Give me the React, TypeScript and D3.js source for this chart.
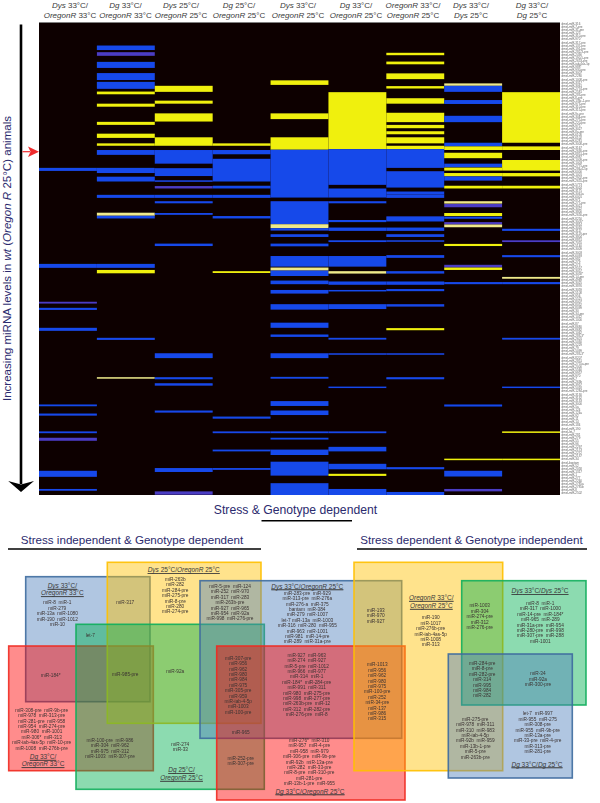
import React from "react";
import * as d3 from "d3";

// ---------- heat map data: [first rank, last rank, kind]; rank = position in the miRNA list
type Band = [number, number, string];
const columnsTop = ["Dys 33°C/", "Dg 33°C/", "Dys 25°C/", "Dg 25°C/", "Dys 33°C/", "Dg 33°C/", "OregonR 33°C/", "Dys 33°C/", "Dg 33°C/"];
const columnsBottom = ["OregonR 33°C", "OregonR 33°C", "OregonR 25°C", "OregonR 25°C", "OregonR 25°C", "OregonR 25°C", "OregonR 25°C", "Dys 25°C", "Dg 25°C"];

const dys33Or33: Band[] = [[48,49,"B"],[79.7,81,"B"],[92.2,92.8,"P"],[94.2,94.9,"B"],[100.8,101.8,"B"],[126.1,126.7,"B"],[129.1,129.8,"B"],[135,135.6,"B"],[137.1,138.1,"P"],[148,150,"B"],[154,154.6,"B"]];
const dg33Or33: Band[] = [[7.6,9.1,"B"],[9.8,11,"P"],[13,15,"B"],[16.7,19,"B"],[19.6,21.9,"B"],[22.8,23.7,"Y"],[26.8,27.8,"Y"],[32.8,33.8,"Y"],[36.7,38.1,"Y"],[39.9,40.7,"Y"],[42.1,43.7,"B"],[48,49.7,"B"],[50.9,52.5,"B"],[56.9,57.9,"B"],[62.8,63.8,"L"],[63.8,64.7,"B"],[79.7,81,"B"],[81.7,82.8,"Y"],[104.1,104.8,"B"],[117.1,117.6,"L"]];
const dys25Or25: Band[] = [[20.9,22.9,"Y"],[25.8,26.8,"Y"],[30,32.7,"Y"],[37.9,40.7,"Y"],[42.1,46.6,"B"],[48.1,50.7,"B"],[52.1,52.6,"B"],[54,54.8,"P"],[56.9,57.9,"B"],[59,59.7,"B"],[62.9,63.5,"B"],[73,73.8,"B"],[109.2,110.8,"B"],[117.1,117.8,"B"],[119.1,119.9,"B"],[128.1,128.8,"B"],[147.1,148.4,"B"],[154.8,155.9,"P"]];
const dg25Or25: Band[] = [[39.9,40.7,"Y"],[42.1,43.5,"B"],[45,52.5,"B"],[53.9,54.8,"B"],[56.9,57.9,"B"],[63.9,64.7,"B"],[82.1,82.7,"Y"],[130.1,130.8,"B"],[135,135.6,"B"],[141,141.6,"B"],[147.1,147.7,"B"]];
const dys33Or25: Band[] = [[19.1,20.6,"Y"],[30,31.9,"Y"],[37.9,42,"Y"],[42,57.8,"B"],[59,66.6,"B"],[66.6,67.9,"L"],[67.9,68.7,"B"],[69.9,70.8,"B"],[73,73.9,"B"],[77.1,80.6,"B"],[80.9,81.9,"L"],[81.9,83.7,"B"],[85.2,86.4,"B"],[88.3,89.5,"B"],[93,94.8,"B"],[99.1,100.8,"B"],[103,103.8,"B"],[109.2,110.8,"B"],[117,117.6,"B"],[125,126.6,"B"],[128.1,129.6,"B"],[135,135.6,"B"],[137.1,137.7,"B"],[141,142.8,"B"],[145,149.6,"B"],[152.1,156,"B"]];
const dg33Or25: Band[] = [[23,41.8,"Y"],[41.8,53.6,"B"],[54.8,57.8,"B"],[59,59.7,"B"],[65.2,65.9,"B"],[67.7,68.8,"B"],[71.9,72.5,"B"],[77.1,80.6,"B"],[82.1,82.9,"L"],[85.5,86.6,"B"],[88.3,88.8,"B"],[93,94.6,"B"],[104.1,104.7,"B"],[109.2,109.7,"B"],[120.2,120.7,"B"],[135,135.6,"B"],[140.1,141.6,"B"],[145.7,147.5,"B"],[149,149.7,"Y"],[154,156,"B"]];
const or33Or25: Band[] = [[10,10.8,"Y"],[12.9,13.8,"Y"],[16.8,18.7,"Y"],[21,21.8,"Y"],[25,26.8,"Y"],[29.8,32.9,"Y"],[33.8,34.9,"Y"],[35.9,36.9,"Y"],[37.9,39.9,"Y"],[40.7,41.8,"Y"],[41.8,48,"B"],[49.1,54.5,"B"],[55.8,56.8,"B"],[56.8,57.9,"B"],[64,65.7,"B"],[67.7,68.8,"B"],[69.9,70.8,"B"],[71.9,72.4,"B"],[76.8,77.7,"B"],[82.1,82.9,"B"],[85.5,86.6,"B"],[88,88.7,"B"],[93,93.8,"B"],[100.9,101.6,"Y"],[109.2,109.7,"B"],[117.1,117.8,"B"],[146.8,147.5,"B"],[155,156,"B"]];
const dys33Dys25: Band[] = [[20.1,20.9,"L"],[20.9,22.9,"B"],[25.6,26.9,"B"],[30.8,32.9,"B"],[39.7,40.9,"B"],[40.9,42.1,"Y"],[43,44.8,"Y"],[46.6,47.8,"B"],[47.9,48.9,"Y"],[49.7,50.8,"Y"],[50.8,52.2,"B"],[53.9,54.8,"Y"],[59,59.8,"L"],[59.9,61,"P"],[62.9,63.9,"Y"],[64.1,64.8,"B"],[65.9,66.7,"P"],[66.7,67.6,"L"],[73.1,73.8,"Y"],[80,80.9,"P"],[80.9,81.7,"Y"],[85.7,86.4,"B"],[126.1,126.8,"B"],[144,144.5,"Y"],[148,149.9,"B"],[154,154.8,"P"]];
const dg33Dg25: Band[] = [[23,39.7,"Y"],[40.9,42.1,"Y"],[45.4,48.9,"Y"],[49.7,50.8,"Y"],[53.9,54.8,"Y"],[68.1,68.8,"B"],[71.9,72.5,"P"],[76.8,77.5,"B"],[84,84.6,"L"],[85.7,86.4,"B"],[104.1,104.7,"B"],[120.2,120.7,"B"],[135,135.5,"Y"],[144,144.5,"Y"]];
const heatColumns = [dys33Or33, dg33Or33, dys25Or25, dg25Or25, dys33Or25, dg33Or25, or33Or25, dys33Dys25, dg33Dg25];

const rowLabels = ["miR-316","miR-7-pre","miR-31-pre","miR-125","miR-310-pre","miR-970","miR-317-pre","miR-137-pre","miR-191-pre","miR-282-3-pre","miR-2490","miR-190-5-pre","miR-2653-pre","miR-iab-4as-5p","miR-988*","miR-930-pre","miR-3007","miR-2280","miR-1008-pre","miR-3317","miR-3061","miR-2774-pre","miR-2581","miR-283-pre","miR-8-pre","miR-136c-1-pre","miR-973-pre","miR-310-pre","miR-315-pre","miR-9c-pre","miR-304-pre","miR-275-pre","miR-220-pre","miR-975","miR-3027","miR-8a-pre","miR-6100","miR-6102","miR-6281","miR-3008-pre","miR-3167","miR-2636-pre","miR-8851-pre","miR-4987","miR-1009-pre","miR-1003","miR-2775-pre","miR-286-4-5p","miR-6000","miR-1001","miR-2902-pre","miR-2655-pre","miR-5773","miR-3024","miR-3175","miR-3061a","miR-6001","miR-971","miR-277-pre","miR-3021","miR-3022","miR-3800","miR-2656-pre","miR-8250","miR-3005*","miR-3814","miR-3016","miR-3117","miR-3119-pre","miR-3804","miR-8851","miR-7055","miR-5140","miR-3009","miR-3003","miR-6093","miR-982","miR-279","miR-273","miR-9557","miR-3057","miR-3058*","miR-14-pre","miR-4969","miR-3025","miR-3876","miR-3059","miR-5108","miR-956","miR-5525","miR-8007","miR-8052","miR-8099","miR-30","miR-34-pre","miR-1012","miR-1000","miR-87","miR-8680","miR-8682","miR-1062","miR-283-3*","miR-2601","miR-5030","miR-5229","miR-79","miR-5099","miR-283-3*","miR-8207","miR-2851","miR-2755a-pre","miR-2000","miR-5560","miR-9957","miR-970","miR-7","miR-263b","miR-3957","miR-5018","miR-1284-pre","miR-3130","miR-3132","miR-3133","miR-3000","miR-5a","miR-124","miR-124a","miR-92","miR-11","miR-14","miR-184","miR-190","let-7","miR-281","miR-279","miR-55","miR-96","miR-2297","miR-2173","miR-2272","miR-2137","miR-34","bantam","miR-52","miR-2058","miR-1317","miR-1","miR-277","miR-2260","miR-2785a","miR-2785b","miR-8","miR-2502"];

// ---------- miRNAs of each Venn region
const dys33Or33Only = ["miR-8  miR-1","miR-279","miR-13a  miR-1080","miR-190  miR-1012","miR-10"];
const dys33Dys25Shared1 = ["miR-317"];
const dys25Or25Only = ["miR-263b","miR-282","miR-284-pre","miR-275-pre","miR-8-pre","miR-280","miR-274-pre"];
const letSeven = ["let-7"];
const mir184Star = ["miR-184*"];
const mir985 = ["miR-985-pre"];
const mir92a = ["miR-92a"];
const dg33Or33Only = ["miR-308-pre  miR-9b-pre","miR-978  miR-313-pre","miR-281-pre  miR-958","miR-954  miR-274-pre","miR-980  miR-1001","miR-306*  miR-313","miR-iab-4as-5p  miR-10-pre","miR-1008  miR-276b-pre"];
const dg33Dg25Or = ["miR-100-pre  miR-986","miR-304  miR-962","miR-975  miR-312","miR-1003  miR-307-pre"];
const dg25Only = ["miR-274","miR-33"];
const dysTripleTop = ["miR-5-pre  miR-124","miR-252  miR-970","miR-317  miR-283","miR-263b-pre","miR-927  miR-965","miR-954  miR-92a","miR-998  miR-276-pre"];
const dys33Or25Only = ["miR-283-pre  miR-929","miR-313-pre  miR-276a","miR-276-a  miR-375","bantam  miR-384","miR-279  miR-1007","let-7 miR-13a  miR-1003","miR-316  miR-280  miR-955","miR-963  miR-1001","miR-981  miR-14-pre","miR-289  miR-31a-pre"];
const quadShared = ["miR-307-pre","miR-956","miR-962","miR-980","miR-984","miR-975","miR-305-pre","miR-959","miR-iab-4-5p","miR-1003","miR-100-pre"];
const dysDgOr25 = ["miR-927  miR-963","miR-274  miR-927","miR-5-pre  miR-1012","miR-966  miR-977","miR-314  miR-1","miR-184*  miR-284-pre","miR-991  miR-311","miR-980  miR-275-pre","miR-998  miR-277-pre","miR-263b-pre  miR-12","miR-312  miR-282-pre","miR-276-pre  miR-8"];
const mir965 = ["miR-965"];
const dg25Dg33Or25 = ["miR-252-pre","miR-307-pre"];
const dg33Or25Only = ["miR-276*  miR-310","miR-957  miR-4-pre","miR-958  miR-979","miR-306-pre  miR-9b-pre","miR-92b  miR-13a-pre","miR-282  miR-33-pre","miR-8-pre  miR-310-pre","miR-281-pre","miR-13b-1-pre  miR-955"];
const orDysShared = ["miR-193","miR-970","miR-927"];
const orDysDgShared = ["miR-1013","miR-956","miR-962","miR-980","miR-975","miR-100-pre","miR-252","miR-34-pre","miR-137","miR-986","miR-315"];
const or33Or25Only = ["miR-190","miR-1017","miR-276b-pre","miR-iab-4as-5p","miR-1008","miR-313"];
const orDys25Shared = ["miR-1003","miR-304","miR-274-pre","miR-312","miR-276-pre"];
const dys33Dys25Only = ["miR-8  miR-1","miR-317  miR-1000","miR-14-pre  miR-184*","miR-965  miR-289","miR-31a-pre  miR-954","miR-280-pre  miR-998","miR-307-pre  miR-288","miR-1001"];
const tripleRight = ["miR-284-pre","miR-8-pre","miR-282-pre","miR-314","miR-995","miR-984","miR-282"];
const dysDgShared = ["miR-34","miR-92a","miR-300-pre"];
const orDgShared = ["miR-275-pre","miR-978  miR-311","miR-310  miR-983","miR-iab-4-5p","miR-92b  miR-959","miR-13b-1-pre","miR-5-pre","miR-263b-pre"];
const dg33Dg25Only = ["let-7  miR-997","miR-955  miR-275","miR-308-pre","miR-955  miR-9b-pre","miR-13a-pre","miR-33-pre  miR-4-pre","miR-313-pre","miR-281-pre"];

// ---------- layout and style (not data)
const W = 600, H = 803;
const KIND: Record<string, string> = { B: "#1848ea", Y: "#f0f00c", P: "#4b3cc4", L: "#efe98a" };
const HEADER_X = [70, 125.5, 181, 239, 298, 356, 413, 471, 532];
const FF = "'Liberation Sans', Arial, sans-serif";
const NAVY = "#2b2a6e";

const BLUE = ["#4f81bd", "#3d6a9e"], RED = ["#ff0000", "#f02a20"], YEL = ["#ffc000", "#ffc000"], GRN = ["#00b050", "#0fae5c"];
// drawn in this order, so overlaps tint as in the figure: [x0, y0, x1, y1, palette]
const BOXES: [number, number, number, number, string[]][] = [
  [25.7, 576.7, 150, 701.7, BLUE],
  [8.7, 646, 153.3, 770.7, RED],
  [107.3, 562.3, 261, 723.3, YEL],
  [76, 624.3, 264.3, 789.3, GRN],
  [200, 580.7, 401.7, 738.3, BLUE],
  [216.7, 646, 405, 800, RED],
  [354, 562.3, 502.7, 770.7, YEL],
  [461.7, 580.7, 586, 705, GRN],
  [448.3, 654, 572.3, 778, BLUE],
];
const BLOCKS: [string[], number, number][] = [
  [dys33Or33Only, 57.3, 602.7], [dys33Dys25Shared1, 125.3, 602.7], [dys25Or25Only, 175.3, 579.3], [letSeven, 90.3, 635.7],
  [mir184Star, 50.7, 675], [mir985, 125.3, 674.3], [mir92a, 175.3, 671.7], [dg33Or33Only, 41.7, 710],
  [dg33Dg25Or, 110, 740], [dg25Only, 180.3, 744.3], [dysTripleTop, 230, 586.3], [dys33Or25Only, 307.3, 593],
  [quadShared, 238.3, 658], [dysDgOr25, 306.7, 655], [mir965, 240.7, 732], [dg25Dg33Or25, 240.7, 758],
  [dg33Or25Only, 309.3, 740.3], [orDysShared, 375.7, 610.3], [orDysDgShared, 377.3, 664.7], [or33Or25Only, 430.7, 617.7],
  [orDys25Shared, 479.7, 605.7], [dys33Dys25Only, 540.3, 603.3], [tripleRight, 482.3, 663.3], [dysDgShared, 538, 673.7],
  [orDgShared, 475.3, 719], [dg33Dg25Only, 537.7, 713.7],
];
// [x centre, y centre, text]; a name part is set in italics
const TITLES: [number, number, string][] = [
  [62.3, 585.7, "Dys 33°C/"], [62.3, 593.2, "OregonR 33°C"],
  [183.7, 570, "Dys 25°C/OregonR 25°C"],
  [43, 756.7, "Dg 33°C/"], [43, 764.2, "OregonR 33°C"],
  [181.5, 770, "Dg 25°C/"], [181.5, 777.7, "OregonR 25°C"],
  [307.3, 586.3, "Dys 33°C/OregonR 25°C"],
  [310, 791.3, "Dg 33°C/OregonR 25°C"],
  [431.3, 597.7, "OregonR 33°C/"], [431.3, 605.7, "OregonR 25°C"],
  [540, 591, "Dys 33°C/Dys 25°C"],
  [537, 764.3, "Dg 33°C/Dg 25°C"],
];

const italicised = (s: string) =>
  s.split(/(Dys|Dg|OregonR)/).filter(Boolean).map((p, i) => (
    <tspan key={i} fontStyle={/^(Dys|Dg|OregonR)$/.test(p) ? "italic" : "normal"}>{p}</tspan>
  ));

export default function App() {
  const x = d3.scaleBand<number>().domain(d3.range(heatColumns.length)).range([39, 560]).padding(0);
  const y = d3.scaleLinear().domain([0, 156]).range([22.5, 495]);
  const labelY = d3.scaleBand<number>().domain(d3.range(rowLabels.length)).range([22.5, 495]);
  const LINE = 5.4;
  return (
    <svg width={W} height={H} viewBox={`0 0 ${W} ${H}`} style={{ position: "absolute", left: 0, top: 0, display: "block", background: "#fff" }} fontFamily={FF}>
      <defs>
        <filter id="soft" x="-2%" y="-2%" width="104%" height="104%"><feGaussianBlur stdDeviation="0.35" /></filter>
        <filter id="softText" x="-5%" y="-5%" width="110%" height="110%"><feGaussianBlur stdDeviation="0.22" /></filter>
      </defs>

      {/* column headers */}
      <g fontSize={8} fill="#3a3a3a" textAnchor="middle">
        {columnsTop.map((t, i) => (
          <g key={i}>
            <text x={HEADER_X[i]} y={8}>{italicised(t)}</text>
            <text x={HEADER_X[i]} y={17.8}>{italicised(columnsBottom[i])}</text>
          </g>
        ))}
      </g>

      {/* heat map */}
      <g filter="url(#soft)">
        <rect x={39} y={22.5} width={521} height={472.5} fill="#0b0002" />
        {heatColumns.map((bands, c) =>
          bands.map(([a, b, k], i) => (
            <rect key={`${c}-${i}`} x={x(c)} width={x.bandwidth()} y={y(a)} height={y(b) - y(a)} fill={KIND[k]} />
          ))
        )}
      </g>

      {/* row labels */}
      <g fontSize={3} fill="#666" filter="url(#softText)">
        {rowLabels.map((l, i) => (
          <text key={i} x={561.5} y={(labelY(i) as number) + labelY.bandwidth() * 0.8}>{"dmel-" + l}</text>
        ))}
      </g>

      {/* vertical axis arrow */}
      <line x1={21} x2={21} y1={24.5} y2={484} stroke="#000" strokeWidth={2.6} />
      <path d="M8.2 481 L21 484.5 L34 481 L21 492 Z" fill="#000" />
      <text transform="translate(10.6,258.5) rotate(-90)" textAnchor="middle" fontSize={11.55} fill={NAVY}>
        Increasing miRNA levels in <tspan fontStyle="italic">wt</tspan> (<tspan fontStyle="italic">Oregon R</tspan> 25°C) animals
      </text>
      {/* red arrow */}
      <line x1={22.5} x2={30} y1={151.7} y2={151.7} stroke="#ef2b2d" strokeWidth={1.2} />
      <path d="M28 146.5 L39 151.7 L28 157 L30.5 151.7 Z" fill="#ef2b2d" />

      {/* section headings */}
      <g fill={NAVY}>
        <text x={295.5} y={514} textAnchor="middle" fontSize={12.2}>Stress &amp; Genotype dependent</text>
        <text x={132} y={544} textAnchor="middle" fontSize={11.6}>Stress independent &amp; Genotype dependent</text>
        <text x={471.5} y={544} textAnchor="middle" fontSize={11.6}>Stress dependent &amp; Genotype independent</text>
      </g>
      <g stroke="#000" strokeWidth={1.5}>
        <line x1={261.5} x2={352} y1={520.7} y2={520.7} />
        <line x1={8} x2={261} y1={549} y2={549} />
        <line x1={357} x2={587} y1={549} y2={549} />
      </g>

      {/* Venn boxes */}
      {BOXES.map(([x0, y0, x1, y1, [fill, stroke]], i) => (
        <rect key={i} x={x0} y={y0} width={x1 - x0} height={y1 - y0} fill={fill} fillOpacity={0.45} stroke={stroke} strokeOpacity={0.9} strokeWidth={1.6} />
      ))}

      {/* Venn lists */}
      <g fontSize={4.75} fill="#3b3332" textAnchor="middle" filter="url(#softText)" style={{ whiteSpace: "pre" }}>
        {BLOCKS.map(([items, cx, cy], i) =>
          items.map((t, j) => (
            <text key={`${i}-${j}`} x={cx} y={cy + j * LINE + 1.7} xmlSpace="preserve">{t}</text>
          ))
        )}
      </g>
      <g fontSize={6.5} fill="#3a3a3a" textAnchor="middle" textDecoration="underline">
        {TITLES.map(([cx, cy, t], i) => (
          <text key={i} x={cx} y={cy + 2.2} textDecoration="underline">{italicised(t)}</text>
        ))}
      </g>
    </svg>
  );
}
